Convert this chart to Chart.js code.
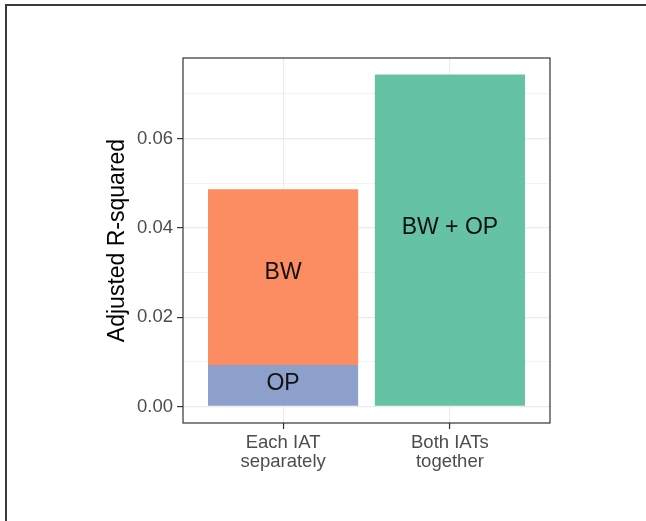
<!DOCTYPE html>
<html>
<head>
<meta charset="utf-8">
<script src="https://cdn.jsdelivr.net/npm/chart.js@4.4.1/dist/chart.umd.min.js"></script>
<style>
  html, body { margin: 0; padding: 0; background: #ffffff; }
  #wrap { position: relative; width: 646px; height: 521px; overflow: hidden; background: #fff; }
  #frame { position: absolute; left: 5px; top: 4px; right: -10px; bottom: -10px;
           border-top: 2px solid #3a3a3a; border-left: 2px solid #3a3a3a; pointer-events: none; }
  canvas { position: absolute; left: 0; top: 0; }
</style>
</head>
<body>
<div id="wrap">
  <canvas id="c" width="646" height="521"></canvas>
  <div id="frame"></div>
</div>
<script>
// ---- data ----
const categories = [["Each IAT", "separately"], ["Both IATs", "together"]];
const categoryPositions = [1, 2];
const seriesNames = ["OP", "BW", "BW + OP"];
const seriesCategory = [1, 1, 2];           // which category each series sits in
const seriesValues = [0.0093, 0.0393, 0.0743]; // stacked segment heights
const seriesColors = ["#8DA0CB", "#FC8D62", "#66C2A5"];
const labelTexts = ["OP", "BW", "BW + OP"];
const labelY = [0.005, 0.03, 0.04];          // y value where each label is written
const yMajorTicks = [0, 0.02, 0.04, 0.06];
const yMinorTicks = [0.01, 0.03, 0.05, 0.07];
const yTickLabels = ["0.00", "0.02", "0.04", "0.06"];
const yMin = -0.0037, yMax = 0.078;
const xMin = 0.4, xMax = 2.6;

const FONT = "'Liberation Sans', Arial, sans-serif";

const datasets = seriesNames.map((name, i) => ({
  label: name,
  data: [{ x: seriesCategory[i], y: seriesValues[i] }],
  backgroundColor: seriesColors[i],
  borderWidth: 0,
  barPercentage: 0.9,
  categoryPercentage: 1.0
}));

const isMajor = v => yMajorTicks.some(m => Math.abs(m - v) < 1e-9);

const decor = {
  id: 'decor',
  afterDatasetsDraw(chart) {
    const ctx = chart.ctx;
    const ys = chart.scales.y;
    ctx.save();
    ctx.fillStyle = '#111111';
    ctx.font = '23px ' + FONT;
    ctx.textAlign = 'center';
    ctx.textBaseline = 'middle';
    chart.data.datasets.forEach((ds, i) => {
      const el = chart.getDatasetMeta(i).data[0];
      if (!el) return;
      ctx.fillText(labelTexts[i], el.x, ys.getPixelForValue(labelY[i]));
    });
    // panel border
    const a = chart.chartArea;
    ctx.strokeStyle = '#333333';
    ctx.lineWidth = 1.2;
    ctx.strokeRect(a.left, a.top, a.right - a.left, a.bottom - a.top);
    ctx.restore();
  }
};

new Chart(document.getElementById('c'), {
  type: 'bar',
  data: { datasets },
  plugins: [decor],
  options: {
    responsive: false,
    animation: false,
    devicePixelRatio: 1,
    layout: { padding: { left: 0, top: 58, right: 96, bottom: 0 } },
    plugins: { legend: { display: false }, tooltip: { enabled: false } },
    scales: {
      x: {
        type: 'linear',
        min: xMin, max: xMax,
        stacked: true,
        offset: false,
        afterBuildTicks: s => { s.ticks = categoryPositions.map(v => ({ value: v })); },
        afterFit: s => { s.height = 98; },
        ticks: {
          callback: (v) => { const k = categoryPositions.indexOf(v); return k >= 0 ? categories[k] : ''; },
          font: { family: FONT, size: 18.5, lineHeight: 1.0 },
          color: '#4D4D4D',
          padding: 5,
          maxRotation: 0, autoSkip: false
        },
        grid: { offset: false, color: '#EBEBEB', lineWidth: 1.1, drawTicks: true, tickLength: 6, tickColor: '#333333', tickWidth: 1.2 },
        border: { display: false }
      },
      y: {
        type: 'linear',
        min: yMin, max: yMax,
        stacked: true,
        afterBuildTicks: s => { s.ticks = yMajorTicks.concat(yMinorTicks).sort((a, b) => a - b).map(v => ({ value: v })); },
        afterFit: s => { s.width = 183; },
        ticks: {
          callback: (v) => { const k = yMajorTicks.findIndex(m => Math.abs(m - v) < 1e-9); return k >= 0 ? yTickLabels[k] : ''; },
          font: { family: FONT, size: 18.5 },
          color: '#4D4D4D',
          padding: 4,
          autoSkip: false
        },
        grid: {
          color: '#EBEBEB',
          lineWidth: ctx => (ctx.tick && isMajor(ctx.tick.value)) ? 1.2 : 0.6,
          drawTicks: true, tickLength: 6,
          tickColor: ctx => (ctx.tick && isMajor(ctx.tick.value)) ? '#333333' : 'rgba(0,0,0,0)',
          tickWidth: 1.2
        },
        border: { display: false },
        title: {
          display: true,
          text: 'Adjusted R-squared',
          font: { family: FONT, size: 23 },
          color: '#000000',
          padding: { top: 104, bottom: 0 }
        }
      }
    }
  }
});
</script>
</body>
</html>
